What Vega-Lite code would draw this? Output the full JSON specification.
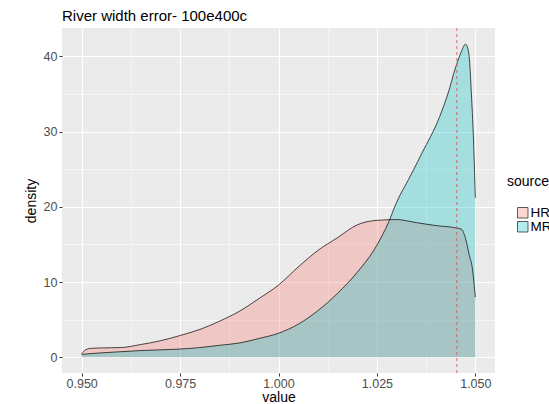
{
  "$schema": "https://vega.github.io/schema/vega-lite/v6.json",
  "autosize": "none",
  "width": 433,
  "height": 345,
  "padding": {"left": 62, "top": 28, "right": 54, "bottom": 31},
  "background": "white",
  "config": {
    "font": "Liberation Sans",
    "view": {"fill": "#EBEBEB", "stroke": null}
  },
  "title": {
    "text": "River width error- 100e400c",
    "anchor": "start",
    "frame": "group",
    "fontSize": 15,
    "fontWeight": "normal",
    "color": "black",
    "offset": 4
  },
  "datasets": {
    "dens": [
      {"source": "HR", "value": 0.9500, "density": 0.5},
      {"source": "HR", "value": 0.9510, "density": 1.0},
      {"source": "HR", "value": 0.9525, "density": 1.2},
      {"source": "HR", "value": 0.9550, "density": 1.25},
      {"source": "HR", "value": 0.9600, "density": 1.3},
      {"source": "HR", "value": 0.9650, "density": 1.7},
      {"source": "HR", "value": 0.9700, "density": 2.2},
      {"source": "HR", "value": 0.9750, "density": 2.9},
      {"source": "HR", "value": 0.9800, "density": 3.7},
      {"source": "HR", "value": 0.9850, "density": 4.8},
      {"source": "HR", "value": 0.9900, "density": 6.1},
      {"source": "HR", "value": 0.9950, "density": 7.8},
      {"source": "HR", "value": 1.0000, "density": 9.6},
      {"source": "HR", "value": 1.0050, "density": 12.0},
      {"source": "HR", "value": 1.0100, "density": 14.2},
      {"source": "HR", "value": 1.0150, "density": 15.9},
      {"source": "HR", "value": 1.0200, "density": 17.6},
      {"source": "HR", "value": 1.0250, "density": 18.2},
      {"source": "HR", "value": 1.0300, "density": 18.3},
      {"source": "HR", "value": 1.0350, "density": 17.9},
      {"source": "HR", "value": 1.0400, "density": 17.5},
      {"source": "HR", "value": 1.0450, "density": 17.2},
      {"source": "HR", "value": 1.0465, "density": 17.0},
      {"source": "HR", "value": 1.0475, "density": 15.8},
      {"source": "HR", "value": 1.0485, "density": 13.5},
      {"source": "HR", "value": 1.0492, "density": 12.0},
      {"source": "HR", "value": 1.0500, "density": 8.0},
      {"source": "MR", "value": 0.9500, "density": 0.4},
      {"source": "MR", "value": 0.9550, "density": 0.6},
      {"source": "MR", "value": 0.9600, "density": 0.75},
      {"source": "MR", "value": 0.9650, "density": 0.9},
      {"source": "MR", "value": 0.9700, "density": 1.0},
      {"source": "MR", "value": 0.9750, "density": 1.1},
      {"source": "MR", "value": 0.9800, "density": 1.3},
      {"source": "MR", "value": 0.9850, "density": 1.6},
      {"source": "MR", "value": 0.9900, "density": 1.9},
      {"source": "MR", "value": 0.9950, "density": 2.5},
      {"source": "MR", "value": 1.0000, "density": 3.2},
      {"source": "MR", "value": 1.0050, "density": 4.4},
      {"source": "MR", "value": 1.0100, "density": 6.2},
      {"source": "MR", "value": 1.0150, "density": 8.5},
      {"source": "MR", "value": 1.0200, "density": 11.3},
      {"source": "MR", "value": 1.0250, "density": 14.9},
      {"source": "MR", "value": 1.0280, "density": 18.0},
      {"source": "MR", "value": 1.0300, "density": 20.6},
      {"source": "MR", "value": 1.0330, "density": 23.6},
      {"source": "MR", "value": 1.0343, "density": 24.9},
      {"source": "MR", "value": 1.0365, "density": 27.2},
      {"source": "MR", "value": 1.0386, "density": 29.3},
      {"source": "MR", "value": 1.0400, "density": 30.8},
      {"source": "MR", "value": 1.0419, "density": 33.3},
      {"source": "MR", "value": 1.0435, "density": 35.8},
      {"source": "MR", "value": 1.0445, "density": 37.7},
      {"source": "MR", "value": 1.0455, "density": 39.3},
      {"source": "MR", "value": 1.0466, "density": 40.8},
      {"source": "MR", "value": 1.0475, "density": 41.6},
      {"source": "MR", "value": 1.0480, "density": 41.2},
      {"source": "MR", "value": 1.0485, "density": 39.6},
      {"source": "MR", "value": 1.0490, "density": 35.0},
      {"source": "MR", "value": 1.0495, "density": 29.5},
      {"source": "MR", "value": 1.0500, "density": 21.2}
    ],
    "cut": [{"threshold": 1.0453}]
  },
  "layer": [
    {
      "data": {"name": "dens"},
      "mark": {"type": "area", "fillOpacity": 0.3, "interpolate": "monotone"},
      "encoding": {
        "x": {
          "field": "value", "type": "quantitative",
          "scale": {"domain": [0.945, 1.055], "nice": false, "zero": false},
          "axis": {
            "title": "value",
            "values": [0.95, 0.9625, 0.975, 0.9875, 1.0, 1.0125, 1.025, 1.0375, 1.05],
            "labelExpr": "round(datum.value*1000) % 25 != 0 ? '' : format(datum.value, '.3f')",
            "labelFontSize": 12.5,
            "labelColor": "#4D4D4D",
            "labelPadding": 1,
            "tickColor": "#333333",
            "tickSize": 3,
            "tickOpacity": {"condition": {"test": "round(datum.value*1000) % 25 != 0", "value": 0}, "value": 1},
            "domain": false,
            "grid": true,
            "gridColor": "white",
            "gridWidth": {"condition": {"test": "round(datum.value*1000) % 25 != 0", "value": 0.5}, "value": 1.1},
            "titleFontSize": 14,
            "titleFontWeight": "normal",
            "titleColor": "black",
            "titlePadding": 1
          }
        },
        "y": {
          "field": "density", "type": "quantitative",
          "stack": null,
          "scale": {"domain": [-2.08, 43.75], "nice": false, "zero": false},
          "axis": {
            "title": "density",
            "values": [0, 5, 10, 15, 20, 25, 30, 35, 40],
            "labelExpr": "datum.value % 10 != 0 ? '' : datum.label",
            "labelFontSize": 12.5,
            "labelColor": "#4D4D4D",
            "labelPadding": 2,
            "tickColor": "#333333",
            "tickSize": 3,
            "tickOpacity": {"condition": {"test": "datum.value % 10 != 0", "value": 0}, "value": 1},
            "domain": false,
            "grid": true,
            "gridColor": "white",
            "gridWidth": {"condition": {"test": "datum.value % 10 != 0", "value": 0.5}, "value": 1.1},
            "titleFontSize": 14,
            "titleFontWeight": "normal",
            "titleColor": "black",
            "titlePadding": 5
          }
        },
        "fill": {
          "field": "source", "type": "nominal",
          "scale": {"domain": ["HR", "MR"], "range": ["#F8766D", "#00BFC4"]},
          "legend": {
            "title": "source",
            "orient": "none",
            "legendX": 445,
            "legendY": 147,
            "titleFontSize": 14,
            "titleFontWeight": "normal",
            "titleColor": "black",
            "titlePadding": 17,
            "labelFontSize": 13.5,
            "labelColor": "black",
            "symbolType": "square",
            "symbolSize": 110,
            "symbolOffset": 9,
            "symbolStrokeColor": "#333333",
            "symbolStrokeWidth": 0.8,
            "rowPadding": -5,
            "labelOffset": 1,
            "encode": {
              "symbols": {"update": {"fillOpacity": {"value": 0.3}, "stroke": {"value": "#333333"}, "strokeWidth": {"value": 0.8}}}
            }
          }
        }
      }
    },
    {
      "data": {"name": "dens"},
      "mark": {"type": "line", "color": "black", "strokeWidth": 0.7, "interpolate": "monotone"},
      "encoding": {
        "x": {"field": "value", "type": "quantitative"},
        "y": {"field": "density", "type": "quantitative"},
        "detail": {"field": "source"}
      }
    },
    {
      "data": {"name": "cut"},
      "mark": {"type": "rule", "color": "#E0505A", "strokeDash": [3, 3], "strokeWidth": 1, "opacity": 0.85},
      "encoding": {
        "x": {"field": "threshold", "type": "quantitative"}
      }
    }
  ]
}
